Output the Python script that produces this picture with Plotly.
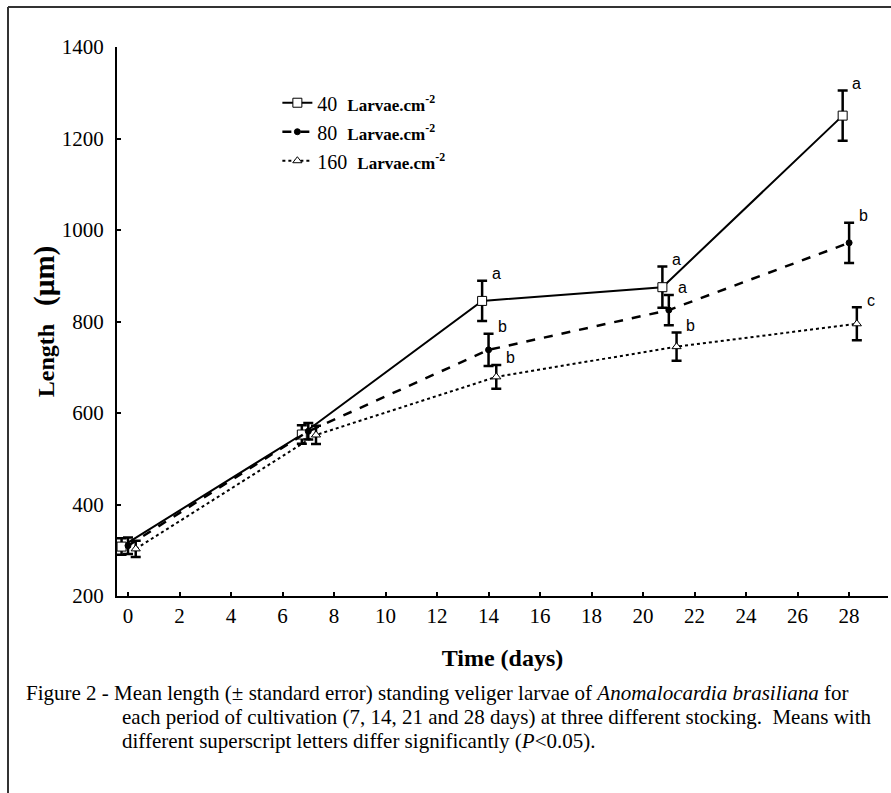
import plotly.graph_objects as go

# ---- data ----
days = [0, 7, 14, 21, 28]
x_offset = {"40": -0.25, "80": 0.0, "160": 0.3}

mean_40 = [308, 553, 845, 875, 1250]
err_40 = [18, 20, 44, 45, 55]
mean_80 = [310, 560, 738, 825, 972]
err_80 = [18, 18, 35, 33, 44]
mean_160 = [303, 552, 679, 745, 795]
err_160 = [18, 20, 26, 31, 36]

letters_40 = ["", "", "a", "a", "a"]
letters_80 = ["", "", "b", "a", "b"]
letters_160 = ["", "", "b", "b", "c"]

x_ticks = list(range(0, 30, 2))
y_ticks = [200, 400, 600, 800, 1000, 1200, 1400]

SERIF = "Liberation Serif"

fig = go.Figure()

series = [
    ("40", mean_40, err_40, letters_40, "solid", "square", "white", 9, 2),
    ("80", mean_80, err_80, letters_80, "dash", "circle", "black", 6, 2.5),
    ("160", mean_160, err_160, letters_160, "dot", "triangle-up", "white", 8, 2),
]

for name, mean, err, letters, dash, symbol, mcolor, msize, lw in series:
    xs = [d + x_offset[name] for d in days]
    fig.add_trace(go.Scatter(
        x=xs, y=mean, mode="lines+markers",
        name=name + "  <span style='font-size:17px'><b>Larvae.cm<sup>-2</sup></b></span>",
        line=dict(color="black", width=lw, dash=dash),
        marker=dict(symbol=symbol, size=msize, color=mcolor,
                    line=dict(color="black", width=1)),
        error_y=dict(type="data", array=err, visible=True, color="black", thickness=2.5, width=5),
    ))
    for x, m, e, lab in zip(xs, mean, err, letters):
        if lab:
            fig.add_annotation(x=x, y=m + e, text=lab, showarrow=False,
                               xanchor="center", yanchor="middle", xshift=14, yshift=7,
                               font=dict(family="Liberation Sans", size=16, color="black"))

fig.update_layout(
    width=891, height=793,
    margin=dict(l=117, r=3, t=47, b=197, autoexpand=False),
    paper_bgcolor="white", plot_bgcolor="white",
    showlegend=True,
    legend=dict(x=0.208, y=0.934, xanchor="left", yanchor="top",
                font=dict(family=SERIF, size=20, color="black"),
                bgcolor="rgba(0,0,0,0)", tracegroupgap=0, itemwidth=30),
    font=dict(family=SERIF, color="black"),
)

fig.update_xaxes(
    range=[-0.427, 29.51], tickvals=x_ticks, ticktext=[str(t) for t in x_ticks],
    showline=True, linecolor="black", linewidth=2, mirror=False,
    ticks="inside", ticklen=4, tickwidth=1.5, tickcolor="black",
    showgrid=False, zeroline=False, automargin=False,
    tickfont=dict(family=SERIF, size=21, color="black"),
    title=dict(text="<b>Time (days)</b>", font=dict(family=SERIF, size=24, color="black"), standoff=22),
)
fig.update_yaxes(
    range=[200, 1400], tickvals=y_ticks, ticktext=[str(t) for t in y_ticks],
    showline=True, linecolor="black", linewidth=2, mirror=False,
    ticks="inside", ticklen=4, tickwidth=1.5, tickcolor="black",
    showgrid=False, zeroline=False, automargin=False,
    ticklabelstandoff=7,
    tickfont=dict(family=SERIF, size=21, color="black"),
    title=dict(text="<b>Length&nbsp;&nbsp;&nbsp;<span style='font-size:29px'>(µm)</span></b>",
               font=dict(family=SERIF, size=24, color="black"), standoff=0),
)

# caption
cap_font = dict(family=SERIF, size=21, color="black")
def px_x(p):
    return (p - 117) / 771
def px_y(p):
    return (596 - p) / 549

fig.add_annotation(xref="paper", yref="paper", x=px_x(24), y=px_y(693), xanchor="left", yanchor="middle",
                   showarrow=False, font=cap_font,
                   text="Figure 2 - Mean length (± standard error) standing veliger larvae of <i>Anomalocardia brasiliana</i> for")
fig.add_annotation(xref="paper", yref="paper", x=px_x(120), y=px_y(717), xanchor="left", yanchor="middle",
                   showarrow=False, font=cap_font,
                   text="each period of cultivation (7, 14, 21 and 28 days) at three different stocking.  Means with")
fig.add_annotation(xref="paper", yref="paper", x=px_x(120), y=px_y(741), xanchor="left", yanchor="middle",
                   showarrow=False, font=cap_font,
                   text="different superscript letters differ significantly (<i>P</i>&lt;0.05).")

# frame
fig.add_shape(type="line", xref="paper", yref="paper", x0=px_x(8), x1=px_x(891), y0=px_y(7), y1=px_y(7),
              line=dict(color="#333", width=2))
fig.add_shape(type="line", xref="paper", yref="paper", x0=px_x(8), x1=px_x(8), y0=px_y(7), y1=px_y(793),
              line=dict(color="#333", width=2))

fig.write_html("out.html", config={"displayModeBar": False},
               post_script="document.body.style.margin='0';document.body.style.overflow='hidden';")
